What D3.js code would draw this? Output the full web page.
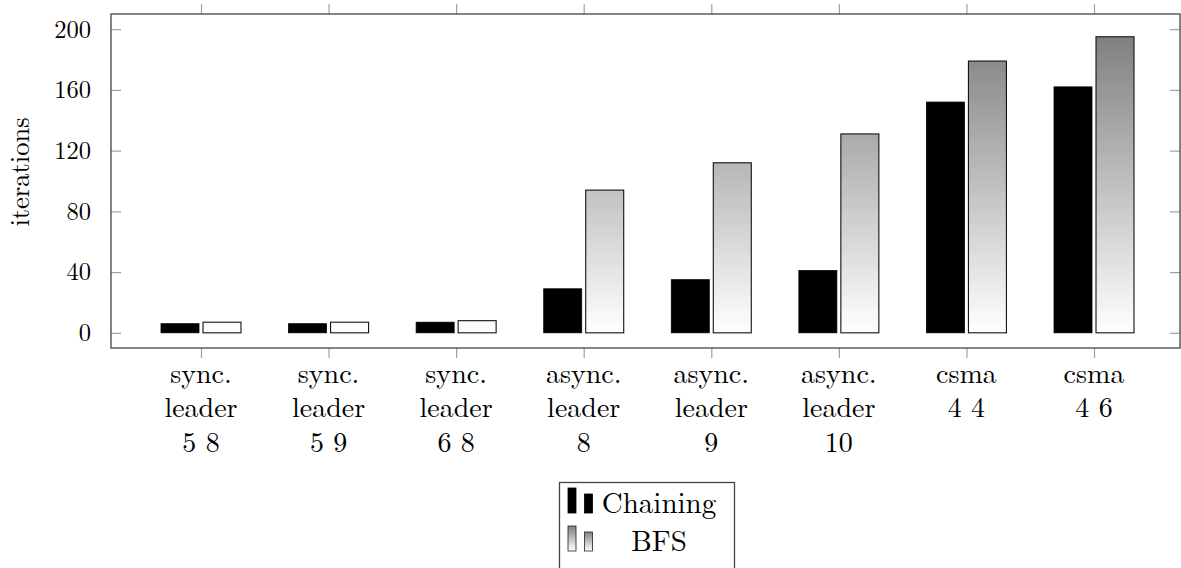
<!DOCTYPE html>
<html><head><meta charset="utf-8">
<script src="https://cdn.jsdelivr.net/npm/d3@7/dist/d3.min.js"></script>
<style>
html,body{margin:0;padding:0;background:#fff;}
svg{display:block;}
text{font-family:"Latin Modern Roman","CMU Serif","Liberation Serif","Times New Roman",serif;fill:#000;}
</style></head>
<body>
<script>
const categories = [
  ["sync.","leader","5 8"],
  ["sync.","leader","5 9"],
  ["sync.","leader","6 8"],
  ["async.","leader","8"],
  ["async.","leader","9"],
  ["async.","leader","10"],
  ["csma","4 4"],
  ["csma","4 6"]
];
const chaining = [6, 6, 7, 29, 35, 41, 152, 162];
const bfs = [7, 7, 8, 94, 112, 131, 179, 195];
const yTicks = [0, 40, 80, 120, 160, 200];
const seriesNames = ["Chaining", "BFS"];
const yLabel = "iterations";

const W = 1181, H = 568;
const plot = {left: 111, right: 1180, top: 14, bottom: 348};

const svg = d3.select("body").append("svg").attr("width", W).attr("height", H);
const defs = svg.append("defs");

const keys = categories.map((c, i) => i);
const x = d3.scalePoint().domain(keys).range([201, 1094]);
const y = d3.scaleLinear().domain([-10, 210]).range([plot.bottom, plot.top]);

// gradient in user space for BFS bars
const g1 = defs.append("linearGradient").attr("id", "bfsGrad")
  .attr("gradientUnits", "userSpaceOnUse")
  .attr("x1", 0).attr("x2", 0).attr("y1", y(0)).attr("y2", y(195));
g1.append("stop").attr("offset", 0).attr("stop-color", "#ffffff");
g1.append("stop").attr("offset", 1).attr("stop-color", "#808080");
const g2 = defs.append("linearGradient").attr("id", "legGrad")
  .attr("x1", 0).attr("x2", 0).attr("y1", 1).attr("y2", 0);
g2.append("stop").attr("offset", 0).attr("stop-color", "#ffffff");
g2.append("stop").attr("offset", 1).attr("stop-color", "#808080");

const barW = 38, off = 21;

// bars
svg.append("g").selectAll("rect.ch").data(chaining).join("rect")
  .attr("x", (d, i) => x(i) - off - barW / 2)
  .attr("y", d => y(d))
  .attr("width", barW)
  .attr("height", d => y(0) - y(d))
  .attr("fill", "#000").attr("stroke", "#000").attr("stroke-width", 0.8);

svg.append("g").selectAll("rect.bf").data(bfs).join("rect")
  .attr("x", (d, i) => x(i) + off - barW / 2)
  .attr("y", d => y(d))
  .attr("width", barW)
  .attr("height", d => y(0) - y(d))
  .attr("fill", "url(#bfsGrad)").attr("stroke", "#111").attr("stroke-width", 1.1);

// axes ticks
const tickColor = "#a0a0a0";
const yl = svg.append("g").attr("transform", `translate(${plot.left},0)`)
  .call(d3.axisLeft(y).tickValues(yTicks).tickSize(-10).tickPadding(20));
const yr = svg.append("g").attr("transform", `translate(${plot.right},0)`)
  .call(d3.axisRight(y).tickValues(yTicks).tickSize(-10).tickFormat(""));
const xb = svg.append("g").attr("transform", `translate(0,${plot.bottom})`)
  .call(d3.axisBottom(x).tickSize(10).tickFormat(""));
const xt = svg.append("g").attr("transform", `translate(0,${plot.top})`)
  .call(d3.axisTop(x).tickSize(10).tickFormat(""));
[yl, yr, xb, xt].forEach(g => {
  g.select(".domain").remove();
  g.selectAll(".tick line").attr("stroke", tickColor).attr("stroke-width", 1.2);
});
yl.selectAll(".tick text").attr("font-size", 24.5).attr("fill", "#000")
  .attr("font-family", '"Latin Modern Roman","CMU Serif","Liberation Serif",serif');

// frame
svg.append("rect").attr("x", plot.left).attr("y", plot.top)
  .attr("width", plot.right - plot.left).attr("height", plot.bottom - plot.top)
  .attr("fill", "none").attr("stroke", "#444").attr("stroke-width", 1.3);

// x labels (one text per category, lines as tspans)
const xl = svg.append("g");
categories.forEach((lines, i) => {
  const t = xl.append("text").attr("x", x(i)).attr("y", 383)
    .attr("text-anchor", "middle").attr("font-size", 28);
  lines.forEach((s, j) => {
    t.append("tspan").attr("x", x(i)).attr("dy", j === 0 ? 0 : 34.3).text(s);
  });
});

// y label
svg.append("text").attr("transform", `translate(29,172) rotate(-90)`)
  .attr("text-anchor", "middle").attr("font-size", 26.5).text(yLabel);

// legend
const leg = svg.append("g");
leg.append("rect").attr("x", 559.5).attr("y", 482.5).attr("width", 175).attr("height", 100)
  .attr("fill", "#fff").attr("stroke", "#444").attr("stroke-width", 1.3);
const legRows = [
  {name: seriesNames[0], fill: "#000", stroke: "#000", y0: 513},
  {name: seriesNames[1], fill: "url(#legGrad)", stroke: "#222", y0: 551}
];
legRows.forEach(r => {
  leg.append("rect").attr("x", 568).attr("y", r.y0 - 25).attr("width", 8).attr("height", 25)
    .attr("fill", r.fill).attr("stroke", r.stroke).attr("stroke-width", 0.8);
  leg.append("rect").attr("x", 584.5).attr("y", r.y0 - 19).attr("width", 8).attr("height", 19)
    .attr("fill", r.fill).attr("stroke", r.stroke).attr("stroke-width", 0.8);
  leg.append("text").attr("x", 659).attr("y", r.y0).attr("text-anchor", "middle")
    .attr("font-size", 29).text(r.name);
});
</script>
</body></html>
